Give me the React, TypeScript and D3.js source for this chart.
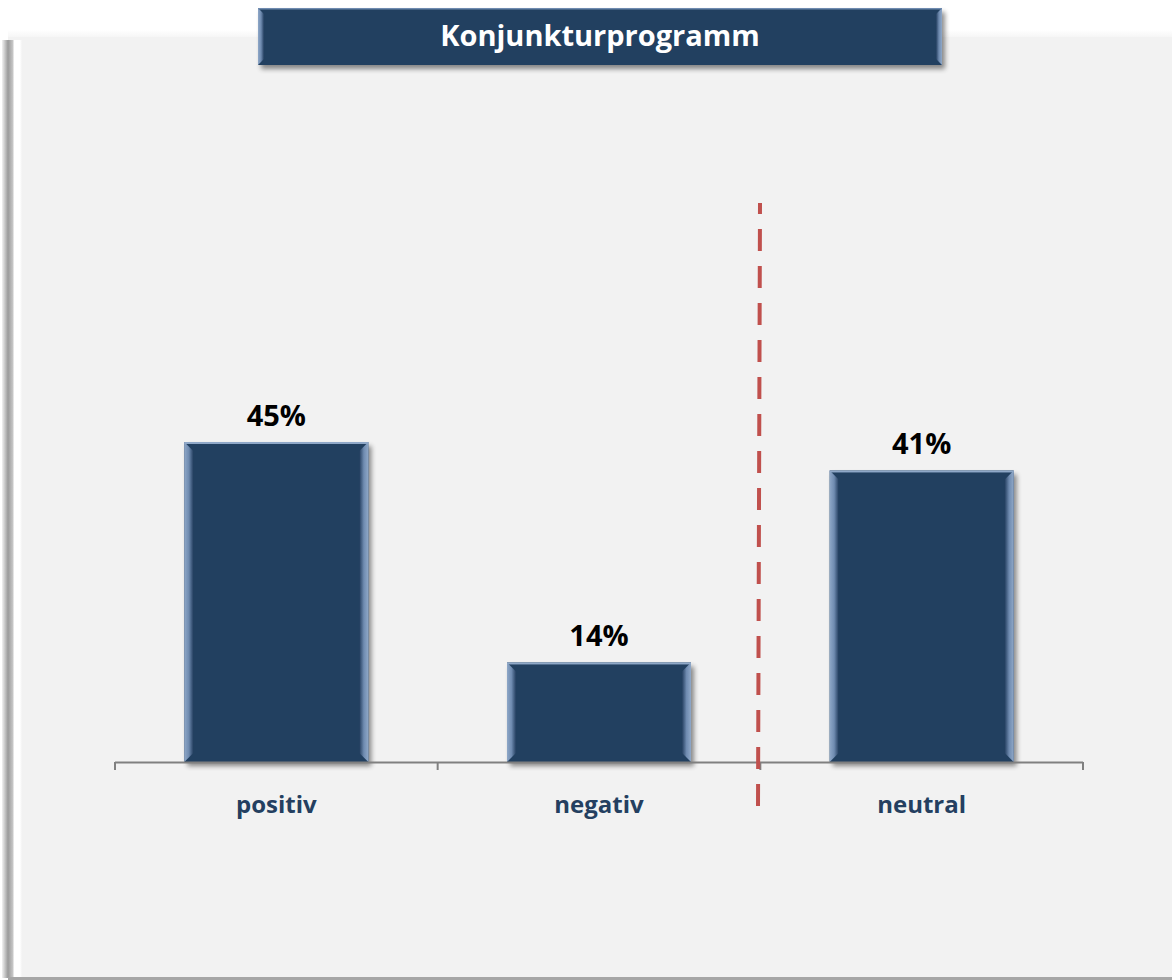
import React from "react";
import * as d3 from "d3";

const categories = ["positiv", "negativ", "neutral"];
const values = [45, 14, 41];
const valueLabels = ["45%", "14%", "41%"];
const title = "Konjunkturprogramm";

const W = 1172;
const H = 980;
const NAVY = "#243f60";

export default function App() {
  const x = d3.scaleBand<string>().domain(categories).range([115, 1083]).paddingInner(0).paddingOuter(0);
  const y = d3.scaleLinear().domain([0, 45]).range([762, 442]);
  const barW = 184;
  const ticks = [115, ...categories.map((c) => (x(c) as number) + x.bandwidth())];
  const font = "'Open Sans', 'Noto Sans', sans-serif";

  return (
    <svg width={W} height={H} style={{ position: "absolute", left: 0, top: 0 }}>
      <defs>
        <filter id="sh" x="-10%" y="-10%" width="130%" height="130%">
          <feGaussianBlur in="SourceAlpha" stdDeviation="2.5" />
          <feOffset dx="3" dy="4" result="o" />
          <feComponentTransfer><feFuncA type="linear" slope="0.45" /></feComponentTransfer>
          <feMerge><feMergeNode /><feMergeNode in="SourceGraphic" /></feMerge>
        </filter>
        <linearGradient id="edgeL" x1="0" x2="1" y1="0" y2="0">
          <stop offset="0" stopColor="#8fa8c8" />
          <stop offset="0.5" stopColor="#6f8bb0" />
          <stop offset="1" stopColor={NAVY} />
        </linearGradient>
        <linearGradient id="edgeR" x1="0" x2="1" y1="0" y2="0">
          <stop offset="0" stopColor={NAVY} />
          <stop offset="0.5" stopColor="#6f8bb0" />
          <stop offset="1" stopColor="#8fa8c8" />
        </linearGradient>
        <linearGradient id="panelL" x1="0" x2="1" y1="0" y2="0">
          <stop offset="0" stopColor="#f2f2f2" />
          <stop offset="0.3" stopColor="#9a9a9a" />
          <stop offset="0.55" stopColor="#c8c8c8" />
          <stop offset="0.6" stopColor="#ffffff" />
          <stop offset="0.9" stopColor="#ffffff" />
          <stop offset="1" stopColor="#f2f2f2" />
        </linearGradient>
        <linearGradient id="panelT" x1="0" x2="0" y1="0" y2="1">
          <stop offset="0" stopColor="#ffffff" />
          <stop offset="1" stopColor="#f2f2f2" />
        </linearGradient>
      </defs>

      <rect x={0} y={0} width={W} height={H} fill="#ffffff" />
      {/* panel */}
      <rect x={8} y={30} width={W - 8} height={10} fill="url(#panelT)" />
      <rect x={8} y={37} width={W - 8} height={941} fill="#f2f2f2" />
      <rect x={2} y={40} width={20} height={938} fill="url(#panelL)" />
      <rect x={8} y={977} width={W - 8} height={3} fill="#a6a6a6" />

      {/* title box */}
      <g filter="url(#sh)">
        <rect x={258} y={8} width={684} height={57} fill={NAVY} />
      </g>
      <polygon points="258,8 264,14 264,59 258,65" fill="url(#edgeL)" />
      <polygon points="942,8 936,14 936,59 942,65" fill="url(#edgeR)" />
      <rect x={258} y={8} width={684} height={1.5} fill="#6f8bb0" />
      <text x={600} y={46} textAnchor="middle" fill="#ffffff" fontFamily={font} fontWeight={700} fontSize={29}>
        {title}
      </text>

      {/* bars */}
      {categories.map((c, i) => {
        const cx = (x(c) as number) + x.bandwidth() / 2;
        const x0 = cx - barW / 2;
        const y0 = y(values[i]);
        const h = y(0) - y0;
        return (
          <g key={c}>
            <g filter="url(#sh)">
              <rect x={x0} y={y0} width={barW} height={h} fill={NAVY} />
            </g>
            <polygon points={`${x0},${y0} ${x0 + 9},${y0 + 9} ${x0 + 9},${y0 + h - 9} ${x0},${y0 + h}`} fill="url(#edgeL)" />
            <polygon points={`${x0 + barW},${y0} ${x0 + barW - 9},${y0 + 9} ${x0 + barW - 9},${y0 + h - 9} ${x0 + barW},${y0 + h}`} fill="url(#edgeR)" />
            <rect x={x0} y={y0} width={barW} height={2} fill="#8fa8c8" />
            <text x={cx} y={y0 - 16} textAnchor="middle" fill="#000000" fontFamily={font} fontWeight={700} fontSize={29}>
              {valueLabels[i]}
            </text>
            <text x={cx} y={813} textAnchor="middle" fill={NAVY} fontFamily={font} fontWeight={700} fontSize={24}>
              {c}
            </text>
          </g>
        );
      })}

      {/* axis */}
      <line x1={115} x2={1083} y1={762.5} y2={762.5} stroke="#808080" strokeWidth={2} />
      {ticks.map((t, i) => (
        <line key={i} x1={t} x2={t} y1={762} y2={770} stroke="#808080" strokeWidth={2} />
      ))}

      {/* dashed separator */}
      <line x1={760} x2={758} y1={203} y2={808} stroke="#c0504d" strokeWidth={4} strokeDasharray="22 15" strokeDashoffset={11} />
    </svg>
  );
}
